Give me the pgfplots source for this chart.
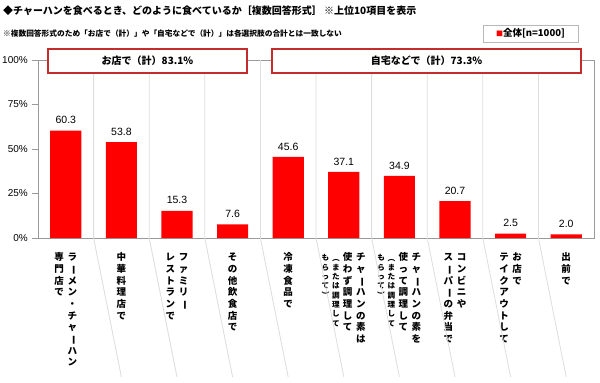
\documentclass[border=0pt]{standalone}
\usepackage{graphicx}
\usepackage{pgfplots}
\pgfplotsset{compat=1.18}
\usepackage{fontspec}
\setmainfont{Noto Sans CJK JP}
\newfontfamily\lat{Liberation Sans}
\definecolor{barred}{HTML}{FF0000}
\definecolor{boxred}{HTML}{C42B2B}
\definecolor{sepgray}{HTML}{DDDDDD}
\definecolor{axgray}{HTML}{9A9A9A}

\makeatletter
\def\chouon{ー}
\def\lparen{（}
\def\rparen{）}
\newcommand\vcol[1]{\vtop{\offinterlineskip\@tfor\vc@c:=#1\do{\hbox to 1.38em{\hss\vrule height .95em depth .28em width 0pt\vc@put\hss}}}}
\def\vc@put{\ifx\vc@c\chouon\rotatebox[origin=c]{-90}{ー}\else\ifx\vc@c\lparen\rotatebox[origin=c]{-90}{（}\else\ifx\vc@c\rparen\rotatebox[origin=c]{-90}{）}\else\vc@c\fi\fi\fi}
\makeatother
\newcommand\jpl{\fontsize{9.5bp}{11.7bp}\selectfont\bfseries}
\newcommand\jps{\fontsize{7.6bp}{9.4bp}\selectfont\bfseries}

\newcommand\labA{\hbox{\vcol{専門店で}\vcol{ラーメン・チャーハン}}}
\newcommand\labB{\hbox{\vcol{中華料理店で}}}
\newcommand\labC{\hbox{\vcol{レストランで}\vcol{ファミリー}}}
\newcommand\labD{\hbox{\vcol{その他飲食店で}}}
\newcommand\labE{\hbox{\vcol{冷凍食品で}}}
\newcommand\labF{\hbox{{\jps\vcol{もらって）}\vcol{（または調理して}}\vcol{使わず調理して}\vcol{チャーハンの素は}}}
\newcommand\labG{\hbox{{\jps\vcol{もらって）}\vcol{（または調理して}}\vcol{使って調理して}\vcol{チャーハンの素を}}}
\newcommand\labH{\hbox{\vcol{スーパーの弁当で}\vcol{コンビニや}}}
\newcommand\labI{\hbox{\vcol{テイクアウトして}\vcol{お店で}}}
\newcommand\labJ{\hbox{\vcol{出前で}}}

\begin{document}
\begin{tikzpicture}[x=1bp,y=1bp]
\useasboundingbox (-38,-144) rectangle (562,238);
\begin{axis}[
  at={(0,0)}, anchor=south west,
  scale only axis, width=556bp, height=178bp,
  xmin=-0.5, xmax=9.5, ymin=0, ymax=100,
  clip=false,
  axis line style={draw=axgray},
  tick pos=left,
  xtick={0,...,9},
  xticklabels={\labA,\labB,\labC,\labD,\labE,\labF,\labG,\labH,\labI,\labJ},
  xtick style={draw=none},
  xticklabel style={anchor=north, inner sep=0pt, yshift=-7.5bp, font=\jpl},
  ytick={0,25,50,75,100},
  yticklabels={0\%,25\%,50\%,75\%,100\%},
  ytick style={draw=axgray},
  tick align=outside,
  major tick length=6bp,
  yticklabel style={font=\lat\fontsize{10bp}{12bp}\selectfont, inner sep=0pt, xshift=-4bp},
  ybar, bar width=0.56,
  nodes near coords,
  nodes near coords style={font=\lat\fontsize{10.5bp}{12bp}\selectfont, text=black, inner sep=0pt, anchor=south, yshift=6.5bp},
  /pgf/number format/.cd, fixed, fixed zerofill, precision=1, assume math mode=true,
]
\pgfplotsinvokeforeach{0.5,1.5,2.5,3.5,4.5,5.5,6.5,7.5,8.5}{
  \draw[sepgray, line width=0.8bp] (axis cs:#1,100) -- (axis cs:#1,0) -- ++(0,-139bp);
}
\addplot[fill=barred, draw=none] coordinates {
(0,60.3) (1,53.8) (2,15.3) (3,7.6) (4,45.6) (5,37.1) (6,34.9) (7,20.7) (8,2.5) (9,2.0)};
\end{axis}
% group boxes
\draw[boxred, line width=1.6bp, fill=white] (10,189) rectangle (209,165);
\node[font=\fontsize{10bp}{12bp}\selectfont\bfseries] at (109.5,177) {お店で（計）83.1\%};
\draw[boxred, line width=1.6bp, fill=white] (234,189) rectangle (543,165);
\node[font=\fontsize{10bp}{12bp}\selectfont\bfseries] at (388.5,177) {自宅などで（計）73.3\%};
% legend
\draw[gray!55, line width=0.8bp, fill=white] (445,213) rectangle (540,196);
\node[font=\fontsize{9.5bp}{11bp}\selectfont\bfseries] at (492.5,204.5) {\textcolor{barred}{\fontsize{7bp}{8bp}\selectfont■}全体[n=1000]};
% titles
\node[anchor=west, inner sep=0pt, font=\fontsize{10bp}{12bp}\selectfont\bfseries] at (-35,227) {◆チャーハンを食べるとき、どのように食べているか［複数回答形式］ ※上位10項目を表示};
\node[anchor=west, inner sep=0pt, font=\fontsize{7.7bp}{9bp}\selectfont\bfseries] at (-35,204.5) {※複数回答形式のため「お店で（計）」や「自宅などで（計）」は各選択肢の合計とは一致しない};
\end{tikzpicture}
\end{document}
